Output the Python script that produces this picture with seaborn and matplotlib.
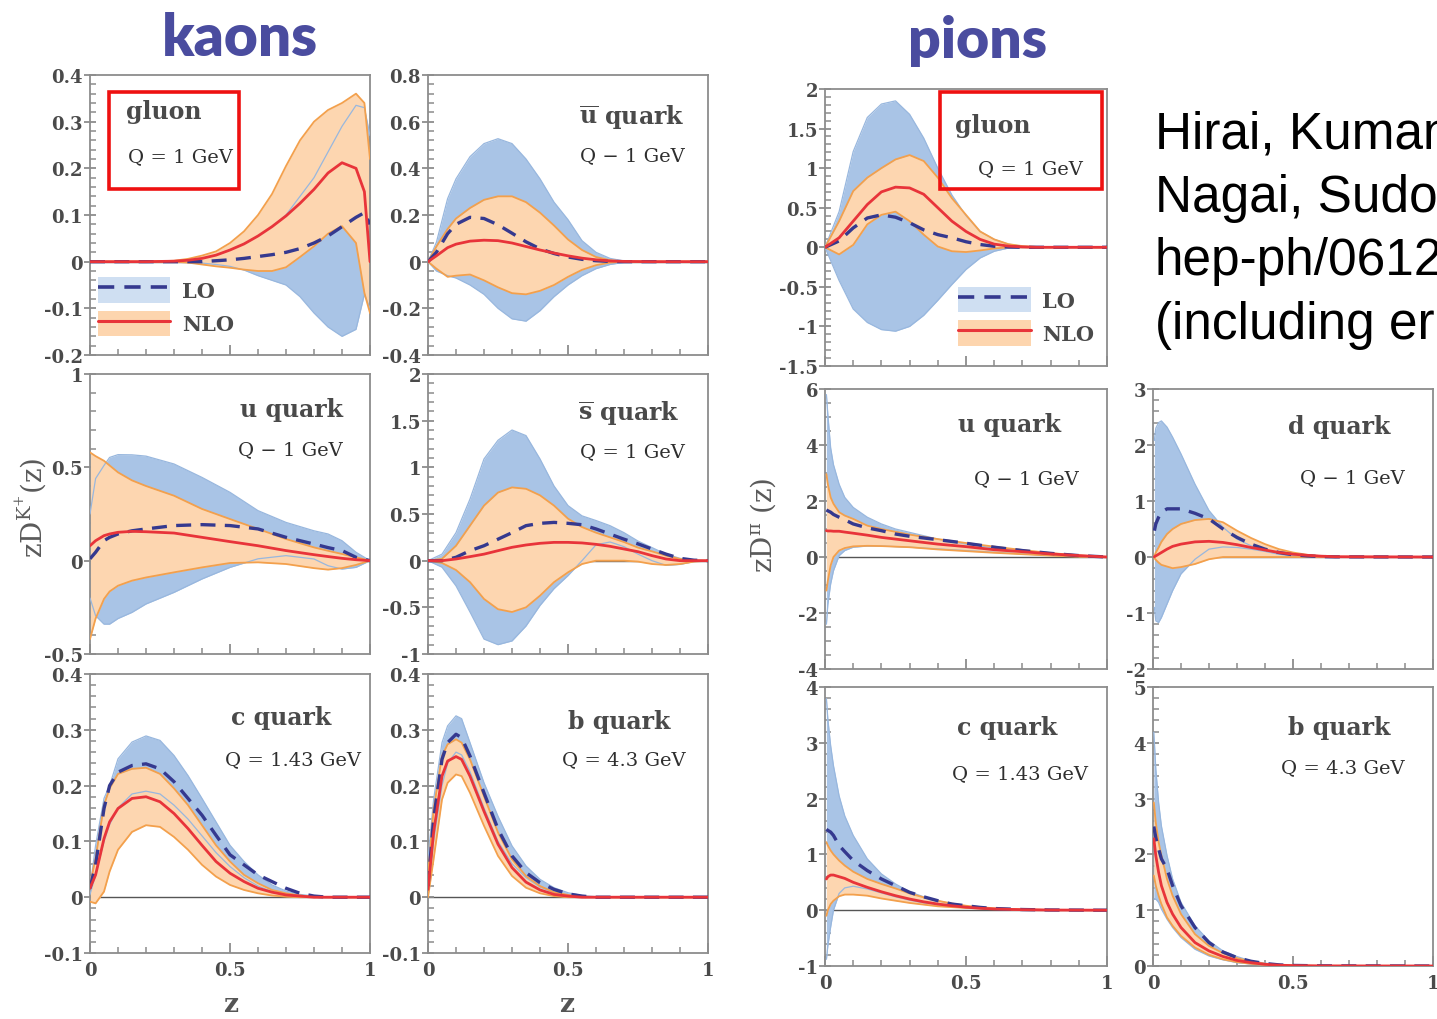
import matplotlib
matplotlib.use("Agg")
import matplotlib.pyplot as plt
import seaborn as sns
from matplotlib.patches import Patch, Rectangle
from matplotlib.lines import Line2D
from matplotlib.legend_handler import HandlerTuple
from matplotlib.ticker import MultipleLocator, AutoMinorLocator, FuncFormatter

# ---------------- data ----------------
# kaons, gluon
KG_Z = [0, .1, .2, .3, .35, .4, .45, .5, .55, .6, .65, .7, .75, .8, .85, .9, .95, .98, 1.0]
KG_NLO_MAX = [0, 0, 0, .002, .006, .013, .022, .04, .065, .1, .145, .205, .26, .3, .325, .34, .36, .34, .22]
KG_NLO = [0, 0, 0, .001, .003, .007, .014, .025, .038, .055, .075, .098, .125, .155, .19, .212, .2, .15, 0]
KG_NLO_MIN = [0, 0, 0, 0, -.002, -.006, -.01, -.013, -.017, -.02, -.02, -.012, .01, .033, .06, .076, .04, -.067, -.11]
KG_LO = [0, 0, 0, 0, 0, 0, .002, .004, .007, .011, .015, .02, .028, .04, .055, .075, .095, .105, .08]
KG_LO_MAX = [0, 0, 0, .001, .003, .007, .014, .025, .038, .055, .075, .1, .14, .18, .235, .29, .335, .33, .27]
KG_LO_MIN = [0, 0, 0, 0, -.001, -.003, -.006, -.01, -.018, -.03, -.04, -.05, -.075, -.11, -.14, -.16, -.145, -.07, -.1]

# kaons, u-bar
KUB_Z = [0, .03, .07, .1, .15, .2, .25, .3, .35, .4, .45, .5, .55, .6, .65, .7, .8, .9, 1.0]
KUB_LO_MAX = [0, .083, .27, .355, .45, .506, .527, .506, .44, .355, .255, .18, .09, .04, .014, .003, 0, 0, 0]
KUB_LO_MIN = [0, -.04, -.06, -.07, -.1, -.14, -.2, -.245, -.255, -.21, -.15, -.1, -.06, -.03, -.012, -.003, 0, 0, 0]
KUB_NLO_MAX = [0, .065, .14, .185, .23, .265, .28, .28, .255, .21, .155, .095, .05, .02, .006, .001, 0, 0, 0]
KUB_NLO_MIN = [0, -.03, -.065, -.06, -.055, -.08, -.11, -.135, -.14, -.125, -.1, -.065, -.035, -.015, -.004, 0, 0, 0, 0]
KUB_LO = [0, .04, .12, .16, .19, .185, .158, .122, .085, .055, .035, .02, .01, .004, .001, 0, 0, 0, 0]
KUB_NLO = [0, .025, .06, .075, .088, .092, .09, .08, .065, .05, .037, .025, .015, .008, .003, .001, 0, 0, 0]

# kaons, u
KU_Z = [0, .02, .05, .07, .1, .15, .2, .3, .4, .5, .6, .7, .8, .85, .9, .95, 1.0]
KU_NLO_MAX = [.58, .56, .535, .51, .473, .43, .40, .348, .277, .223, .17, .116, .071, .053, .036, .018, 0]
KU_NLO_MIN = [-.42, -.31, -.205, -.165, -.134, -.107, -.09, -.0625, -.036, -.0125, -.009, -.018, -.04, -.048, -.04, -.023, 0]
KU_LO_MAX = [.25, .44, .51, .553, .568, .567, .56, .518, .446, .366, .268, .205, .16, .143, .107, .045, 0]
KU_LO_MIN = [-.2, -.295, -.34, -.34, -.31, -.277, -.232, -.17, -.098, -.036, .01, .027, .009, -.027, -.045, -.036, 0]
KU_LO = [.01, .045, .107, .125, .143, .16, .17, .188, .193, .188, .17, .125, .089, .07, .054, .018, 0]
KU_NLO = [.08, .107, .134, .143, .152, .157, .155, .148, .125, .102, .08, .054, .032, .022, .0125, .005, 0]

# kaons, s-bar
KSB_Z = [0, .05, .1, .15, .2, .25, .3, .35, .4, .45, .5, .55, .6, .65, .7, .75, .8, .85, .9, .95, 1.0]
KSB_LO_MAX = [0, .07, .3, .66, 1.09, 1.29, 1.4, 1.34, 1.09, .8, .59, .48, .43, .375, .3, .21, .14, .07, .025, .005, 0]
KSB_LO_MIN = [0, -.07, -.27, -.55, -.84, -.9, -.86, -.7, -.48, -.3, -.16, 0, .17, .2, .15, .07, 0, -.05, -.04, -.01, 0]
KSB_NLO_MAX = [0, .02, .16, .375, .59, .73, .785, .77, .7, .59, .45, .36, .3, .25, .2, .14, .1, .054, .018, .003, 0]
KSB_NLO_MIN = [0, -.025, -.1, -.23, -.41, -.52, -.55, -.5, -.375, -.23, -.125, -.036, 0, 0, 0, -.01, -.036, -.046, -.036, -.01, 0]
KSB_LO = [0, 0, .036, .107, .16, .23, .3, .375, .4, .41, .4, .385, .34, .285, .23, .18, .125, .07, .025, .005, 0]
KSB_NLO = [0, 0, .018, .043, .07, .107, .143, .168, .186, .196, .196, .19, .175, .154, .125, .096, .054, .018, 0, 0, 0]

# kaons, c
KC_Z = [0, .02, .05, .07, .1, .15, .2, .25, .3, .35, .4, .45, .5, .55, .6, .65, .7, .75, .8, .85, 1.0]
KC_LO_MAX = [.016, .093, .177, .2, .248, .278, .289, .281, .254, .218, .177, .135, .093, .064, .04, .022, .011, .005, .002, 0, 0]
KC_LO_MIN = [.005, .04, .1, .13, .16, .185, .19, .185, .165, .14, .11, .08, .055, .035, .02, .01, .005, .002, .001, 0, 0]
KC_LO = [.016, .058, .159, .2, .224, .236, .239, .23, .207, .177, .147, .111, .076, .058, .04, .028, .016, .007, .002, 0, 0]
KC_NLO_MAX = [.022, .07, .165, .195, .221, .23, .232, .221, .195, .165, .129, .093, .064, .04, .025, .013, .007, .003, .001, 0, 0]
KC_NLO_MIN = [-.008, -.011, .01, .046, .085, .117, .129, .126, .108, .085, .058, .037, .022, .013, .007, .003, .001, 0, 0, 0, 0]
KC_NLO = [.016, .04, .105, .135, .159, .177, .18, .171, .15, .123, .093, .064, .043, .028, .016, .009, .004, .002, 0, 0, 0]

# kaons, b
KB_Z = [0, .02, .05, .07, .1, .12, .15, .2, .25, .3, .35, .4, .45, .5, .55, .6, 1.0]
KB_LO_MAX = [.068, .175, .277, .307, .325, .32, .277, .205, .145, .092, .056, .032, .017, .008, .003, .001, 0]
KB_LO_MIN = [0, .1, .2, .24, .26, .255, .225, .16, .1, .06, .035, .018, .008, .003, 0, 0, 0]
KB_LO = [.02, .14, .247, .277, .292, .286, .253, .187, .122, .074, .044, .026, .014, .006, .002, 0, 0]
KB_NLO_MAX = [.038, .157, .253, .274, .283, .277, .247, .181, .116, .068, .038, .02, .009, .004, .001, 0, 0]
KB_NLO_MIN = [0, .068, .175, .205, .22, .217, .187, .128, .074, .038, .017, .007, .002, 0, 0, 0, 0]
KB_NLO = [.014, .116, .217, .244, .252, .247, .217, .154, .095, .053, .027, .013, .005, .002, 0, 0, 0]

# pions, gluon
PG_Z = [0, .05, .1, .15, .2, .25, .3, .35, .4, .45, .5, .55, .6, .65, .7, .75, 1.0]
PG_LO_MAX = [0, .45, 1.21, 1.64, 1.81, 1.85, 1.68, 1.38, 1.0, .66, .4, .2, .1, .04, .013, .005, 0]
PG_LO_MIN = [0, -.42, -.78, -.95, -1.04, -1.06, -1.0, -.86, -.67, -.47, -.28, -.135, -.05, -.01, 0, 0, 0]
PG_NLO_MAX = [0, .33, .71, .88, 1.0, 1.11, 1.165, 1.09, .88, .62, .41, .2, .1, .04, .015, .005, 0]
PG_NLO_MIN = [0, -.09, .03, .29, .41, .45, .33, .16, .01, -.05, -.06, -.04, -.015, 0, 0, 0, 0]
PG_LO = [0, .08, .245, .37, .41, .38, .31, .22, .16, .12, .07, .035, .013, .004, 0, 0, 0]
PG_NLO = [0, .12, .33, .54, .7, .76, .75, .67, .5, .33, .2, .1, .04, .015, .005, 0, 0]

# pions, u
PU_Z = [0.005, .01, .02, .03, .05, .07, .1, .15, .2, .25, .3, .4, .5, .6, .7, .8, .9, 1.0]
PU_LO_MAX = [5.8, 5.1, 3.9, 3.3, 2.6, 2.13, 1.77, 1.42, 1.18, 1.0, .88, .64, .46, .32, .2, .11, .04, 0]
PU_LO_MIN = [-2.4, -1.7, -.96, -.49, .05, .23, .35, .39, .39, .37, .35, .29, .23, .17, .11, .06, .02, 0]
PU_NLO_MAX = [2.96, 2.6, 2.13, 1.9, 1.6, 1.48, 1.36, 1.12, 1.0, .9, .8, .64, .5, .37, .25, .14, .06, 0]
PU_NLO_MIN = [-1.2, -.85, -.3, 0, .23, .32, .38, .4, .39, .37, .35, .27, .21, .15, .1, .05, .01, 0]
PU_LO = [1.68, 1.65, 1.6, 1.52, 1.42, 1.33, 1.18, 1.04, .94, .82, .74, .62, .49, .35, .23, .13, .05, 0]
PU_NLO = [.94, .93, .93, .92, .92, .89, .85, .78, .7, .64, .58, .46, .37, .26, .19, .11, .05, 0]

# pions, d
PD_Z = [0.005, .01, .02, .03, .05, .07, .1, .15, .2, .25, .3, .35, .4, .45, .5, .55, .6, .65, 1.0]
PD_LO_MAX = [2.08, 2.3, 2.4, 2.43, 2.32, 2.14, 1.84, 1.3, .83, .53, .32, .2, .11, .05, .025, .01, .003, 0, 0]
PD_LO_MIN = [-.9, -1.14, -1.17, -1.08, -.84, -.6, -.3, -.04, .14, .18, .17, .14, .1, .05, .025, .01, .003, 0, 0]
PD_NLO_MAX = [.02, .08, .17, .27, .41, .5, .59, .66, .68, .62, .47, .34, .23, .14, .08, .04, .015, .005, 0]
PD_NLO_MIN = [-.02, -.05, -.1, -.14, -.17, -.2, -.18, -.125, -.04, 0, 0, 0, 0, 0, 0, 0, 0, 0, 0]
PD_LO = [.47, .59, .71, .8, .86, .86, .86, .78, .68, .5, .35, .23, .14, .08, .04, .02, .008, .003, 0]
PD_NLO = [.005, .02, .05, .08, .14, .19, .23, .27, .28, .26, .22, .17, .125, .08, .05, .03, .015, .005, 0]

# pions, c
PC_Z = [0.005, .01, .02, .03, .05, .07, .1, .15, .2, .25, .3, .35, .4, .45, .5, .55, .6, .7, .8, 1.0]
PC_LO_MAX = [3.79, 3.43, 2.95, 2.59, 2.05, 1.69, 1.34, .92, .65, .47, .33, .24, .17, .11, .066, .04, .025, .01, .003, 0]
PC_LO_MIN = [-.88, -.64, -.3, 0, .3, .4, .43, .38, .31, .24, .18, .13, .1, .07, .045, .03, .02, .008, .002, 0]
PC_NLO_MAX = [1.22, 1.16, 1.07, 1.0, .89, .8, .69, .56, .47, .39, .3, .23, .17, .12, .08, .054, .035, .015, .005, 0]
PC_NLO_MIN = [-.1, 0, .11, .17, .25, .28, .28, .26, .21, .17, .13, .1, .07, .055, .04, .03, .02, .008, .002, 0]
PC_LO = [1.45, 1.43, 1.4, 1.34, 1.16, 1.05, .89, .71, .56, .44, .32, .24, .17, .11, .08, .05, .03, .012, .004, 0]
PC_NLO = [.56, .6, .63, .63, .6, .57, .5, .41, .33, .26, .2, .15, .11, .08, .054, .035, .022, .009, .003, 0]

# pions, b
PB_Z = [0.003, .01, .02, .03, .05, .07, .1, .15, .2, .25, .3, .35, .4, .45, .5, .6, 1.0]
PB_LO_MAX = [4.19, 3.53, 2.93, 2.51, 1.98, 1.56, 1.14, .72, .45, .27, .17, .09, .05, .025, .012, .004, 0]
PB_LO_MIN = [1.2, 1.2, 1.14, 1.02, .84, .69, .51, .3, .18, .11, .06, .035, .02, .01, .005, 0, 0]
PB_NLO_MAX = [2.93, 2.57, 2.22, 1.98, 1.56, 1.26, .93, .57, .36, .23, .14, .08, .04, .02, .01, .003, 0]
PB_NLO_MIN = [1.62, 1.44, 1.26, 1.11, .87, .72, .54, .33, .2, .12, .07, .04, .02, .01, .005, 0, 0]
PB_LO = [2.5, 2.3, 2.1, 1.92, 1.74, 1.44, 1.08, .69, .42, .25, .15, .085, .045, .02, .01, .003, 0]
PB_NLO = [2.28, 1.98, 1.68, 1.44, 1.14, .93, .69, .42, .27, .17, .1, .06, .03, .015, .007, .002, 0]

X_TICKS = [0, 0.5, 1]
REF_LINES = ["Hirai, Kumano,", "Nagai, Sudoh", "hep-ph/0612009", "(including errors)"]

# ---------------- style ----------------
sns.set_style("ticks")
plt.rcParams['font.family'] = ['DejaVu Serif']
plt.rcParams['mathtext.fontset'] = 'dejavuserif'
plt.rcParams['axes.unicode_minus'] = False
plt.rcParams['font.weight'] = 'normal'

LO_FILL = '#a9c4e6'
LO_EDGE = '#98b7de'
NLO_FILL = '#fdd6b0'
NLO_EDGE = '#f3a04c'
LO_LINE = '#35398f'
NLO_LINE = '#e8343a'
SPINE = '#8c8c8c'
TXT = '#4a4a4a'

W, H = 1437, 1020
fig = plt.figure(figsize=(W / 100, H / 100), dpi=100)
AXES = []


def box(x0, y0, x1, y1):
    return [x0 / W, 1 - y1 / H, (x1 - x0) / W, (y1 - y0) / H]


def fmt(v, p):
    v = round(v, 4)
    if abs(v) < 1e-9:
        v = 0
    return f"{v:g}"


def panel(rect, z, lo_min, lo_max, lo, nlo_min, nlo_max, nlo, ylim, major, minor, xlabels):
    ax = fig.add_axes(rect)
    AXES.append(ax)
    ax.axhline(0, color='#555555', lw=1.0, zorder=0.5)
    ax.fill_between(z, lo_min, lo_max, color=LO_FILL, lw=0, zorder=1)
    ax.fill_between(z, nlo_min, nlo_max, color=NLO_FILL, lw=0, zorder=2)
    for arr in (lo_min, lo_max):
        sns.lineplot(x=z, y=arr, ax=ax, color=LO_EDGE, lw=0.9, zorder=3,
                     estimator=None, sort=False)
    for arr in (nlo_min, nlo_max):
        sns.lineplot(x=z, y=arr, ax=ax, color=NLO_EDGE, lw=1.3, zorder=3.5,
                     estimator=None, sort=False)
    sns.lineplot(x=z, y=lo, ax=ax, color=LO_LINE, lw=2.4, linestyle=(0, (4.5, 2.8)),
                 zorder=4, estimator=None, sort=False)
    sns.lineplot(x=z, y=nlo, ax=ax, color=NLO_LINE, lw=2.0, zorder=5,
                 estimator=None, sort=False)
    ax.set_xlim(0, 1)
    ax.set_ylim(*ylim)
    ax.set_xticks(X_TICKS)
    ax.xaxis.set_minor_locator(MultipleLocator(0.1))
    ax.yaxis.set_major_locator(MultipleLocator(major))
    ax.yaxis.set_minor_locator(AutoMinorLocator(minor))
    ax.xaxis.set_major_formatter(FuncFormatter(fmt))
    ax.yaxis.set_major_formatter(FuncFormatter(fmt))
    ax.tick_params(axis='x', which='major', direction='in', length=7, width=1.3,
                   colors=SPINE, labelcolor=TXT, labelsize=13, pad=6,
                   labelbottom=xlabels)
    ax.tick_params(axis='x', which='minor', direction='in', length=4, width=1.1, colors=SPINE)
    ax.tick_params(axis='y', which='major', direction='inout', length=8, width=1.3,
                   colors=SPINE, labelcolor=TXT, labelsize=13, pad=1)
    ax.tick_params(axis='y', which='minor', direction='in', length=4, width=1.1, colors=SPINE)
    for s in ax.spines.values():
        s.set_color(SPINE)
        s.set_linewidth(1.3)
    ax.set_xlabel('')
    ax.set_ylabel('')
    return ax


def labels(ax, name, q, nx, ny, qx, qy, ha='right', qha='right'):
    ax.text(nx, ny, name, transform=ax.transAxes, ha=ha, va='center',
            fontsize=17, fontweight='bold', color=TXT, zorder=10)
    ax.text(qx, qy, q, transform=ax.transAxes, ha=qha, va='center',
            fontsize=14, fontweight='normal', color='#2e2e2e', zorder=10)


def legend(ax, anchor):
    h_lo = (Patch(facecolor='#cfdff2', edgecolor='none'),
            Line2D([], [], color=LO_LINE, lw=2.6, linestyle=(0, (4.5, 2.8))))
    h_nlo = (Patch(facecolor='#fdd5ae', edgecolor='none'),
             Line2D([], [], color=NLO_LINE, lw=2.2))
    ax.legend([h_lo, h_nlo], ['LO', 'NLO'],
              handler_map={tuple: HandlerTuple(ndivide=1, pad=0)},
              loc='upper left', bbox_to_anchor=anchor, frameon=False,
              prop={'size': 15, 'weight': 'bold', 'family': 'DejaVu Serif'},
              labelcolor=TXT, handlelength=3.5, handleheight=1.5,
              labelspacing=0.38, handletextpad=0.55, borderpad=0, borderaxespad=0)


def redbox(ax, x0, y0, x1, y1):
    ax.add_patch(Rectangle((x0, y0), x1 - x0, y1 - y0, transform=ax.transAxes,
                           fill=False, edgecolor='#ee1111', lw=2.6, zorder=11, clip_on=False))


# ---------------- kaons ----------------
ax = panel(box(90, 76, 370, 356), KG_Z, KG_LO_MIN, KG_LO_MAX, KG_LO, KG_NLO_MIN, KG_NLO_MAX, KG_NLO,
           (-0.2, 0.4), 0.1, 5, False)
labels(ax, 'gluon', 'Q = 1 GeV', 0.13, 0.87, 0.135, 0.71, ha='left', qha='left')
redbox(ax, 0.068, 0.593, 0.532, 0.939)
legend(ax, (0.027, 0.277))

ax = panel(box(428, 76, 708, 356), KUB_Z, KUB_LO_MIN, KUB_LO_MAX, KUB_LO, KUB_NLO_MIN, KUB_NLO_MAX, KUB_NLO,
           (-0.4, 0.8), 0.2, 5, False)
labels(ax, r'$\overline{\mathbf{u}}$ quark', 'Q \u2212 1 GeV', 0.918, 0.853, 0.918, 0.713)

ax = panel(box(90, 375, 370, 655), KU_Z, KU_LO_MIN, KU_LO_MAX, KU_LO, KU_NLO_MIN, KU_NLO_MAX, KU_NLO,
           (-0.5, 1.0), 0.5, 5, False)
labels(ax, 'u quark', 'Q \u2212 1 GeV', 0.904, 0.875, 0.904, 0.732)

ax = panel(box(428, 375, 708, 655), KSB_Z, KSB_LO_MIN, KSB_LO_MAX, KSB_LO, KSB_NLO_MIN, KSB_NLO_MAX, KSB_NLO,
           (-1.0, 2.0), 0.5, 5, False)
labels(ax, r'$\overline{\mathbf{s}}$ quark', 'Q = 1 GeV', 0.9, 0.864, 0.918, 0.725)

ax = panel(box(90, 675, 370, 954), KC_Z, KC_LO_MIN, KC_LO_MAX, KC_LO, KC_NLO_MIN, KC_NLO_MAX, KC_NLO,
           (-0.1, 0.4), 0.1, 5, True)
labels(ax, 'c quark', 'Q = 1.43 GeV', 0.861, 0.846, 0.968, 0.695)

ax = panel(box(428, 675, 708, 954), KB_Z, KB_LO_MIN, KB_LO_MAX, KB_LO, KB_NLO_MIN, KB_NLO_MAX, KB_NLO,
           (-0.1, 0.4), 0.1, 5, True)
labels(ax, 'b quark', 'Q = 4.3 GeV', 0.867, 0.832, 0.921, 0.695)

# ---------------- pions ----------------
ax = panel(box(825, 90, 1107, 367), PG_Z, PG_LO_MIN, PG_LO_MAX, PG_LO, PG_NLO_MIN, PG_NLO_MAX, PG_NLO,
           (-1.5, 2.0), 0.5, 5, False)
labels(ax, 'gluon', 'Q = 1 GeV', 0.461, 0.87, 0.915, 0.715, ha='left')
redbox(ax, 0.408, 0.639, 0.982, 0.989)
legend(ax, (0.472, 0.285))

ax = panel(box(825, 390, 1107, 670), PU_Z, PU_LO_MIN, PU_LO_MAX, PU_LO, PU_NLO_MIN, PU_NLO_MAX, PU_NLO,
           (-4, 6), 2, 4, False)
labels(ax, 'u quark', 'Q \u2212 1 GeV', 0.836, 0.875, 0.9, 0.682)

ax = panel(box(1153, 390, 1433, 670), PD_Z, PD_LO_MIN, PD_LO_MAX, PD_LO, PD_NLO_MIN, PD_NLO_MAX, PD_NLO,
           (-2, 3), 1, 5, False)
labels(ax, 'd quark', 'Q \u2212 1 GeV', 0.846, 0.868, 0.9, 0.686)

ax = panel(box(825, 688, 1107, 967), PC_Z, PC_LO_MIN, PC_LO_MAX, PC_LO, PC_NLO_MIN, PC_NLO_MAX, PC_NLO,
           (-1, 4), 1, 5, True)
labels(ax, 'c quark', 'Q = 1.43 GeV', 0.822, 0.857, 0.932, 0.692)

ax = panel(box(1153, 688, 1433, 967), PB_Z, PB_LO_MIN, PB_LO_MAX, PB_LO, PB_NLO_MIN, PB_NLO_MAX, PB_NLO,
           (0, 5), 1, 5, True)
labels(ax, 'b quark', 'Q = 4.3 GeV', 0.846, 0.857, 0.9, 0.713)

# ---------------- figure texts ----------------
fig.text(240 / W, 1 - 39 / H, 'kaons', ha='center', va='center', fontsize=42,
         fontweight='heavy', color='#4a4c9f', family=['Lato', 'DejaVu Sans'])
fig.text(978 / W, 1 - 41 / H, 'pions', ha='center', va='center', fontsize=41,
         fontweight='heavy', color='#4a4c9f', family=['Lato', 'DejaVu Sans'])

for i, line in enumerate(REF_LINES):
    fig.text(1155 / W, 1 - (135 + 63.5 * i) / H, line, ha='left', va='center', fontsize=37,
             fontweight='normal', color='black', family=['Liberation Sans', 'DejaVu Sans'])

fig.text(31 / W, 1 - 508 / H, r'$\mathrm{zD^{K^{+}}(z)}$', rotation=90, ha='center', va='center',
         fontsize=20, color='#5a5a5a')
fig.text(763 / W, 1 - 525 / H, r'$\mathrm{zD^{\pi}\ (z)}$', rotation=90, ha='center', va='center',
         fontsize=20, color='#5a5a5a')

for xp, yp in [(231, 1005), (567, 1005), (966, 1032), (1292, 1032)]:
    fig.text(xp / W, 1 - yp / H, 'z', ha='center', va='center', fontsize=19,
             fontweight='bold', color='#555555')

# bold tick labels (ticks are created at the first draw and reused afterwards)
fig.canvas.draw()
for a in AXES:
    for lbl in a.get_xticklabels() + a.get_yticklabels():
        lbl.set_fontweight('bold')

fig.savefig('out.png', dpi=100)
